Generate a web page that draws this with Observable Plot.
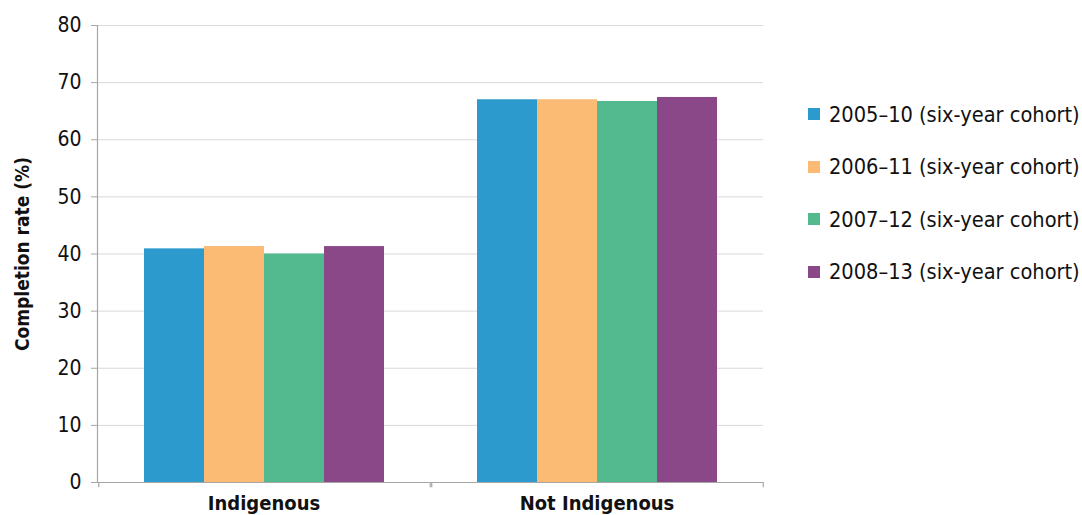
<!DOCTYPE html>
<html>
<head>
<meta charset="utf-8">
<script src="https://cdn.jsdelivr.net/npm/d3@7"></script>
<script src="https://cdn.jsdelivr.net/npm/@observablehq/plot@0.6"></script>
<style>
  html, body { margin: 0; padding: 0; background: #fff; }
  body { width: 1082px; height: 515px; position: relative; overflow: hidden;
         font-family: "Liberation Sans Narrow", "DejaVu Sans Condensed", "Roboto", sans-serif; color: #111; }
  #chart { position: absolute; left: 0; top: 0; }
  #legend { position: absolute; left: 808px; top: 88px; }
  .row { height: 52.5px; display: flex; align-items: center; font-size: 21.6px; white-space: nowrap; }
  .sw { width: 12px; height: 12px; margin-right: 9px; flex: none; }
  #ytitle { position: absolute; left: 22px; top: 254px; transform: translate(-50%, -50%) rotate(-90deg);
            font-weight: bold; font-size: 19px; white-space: nowrap; }
</style>
</head>
<body>
<div id="chart"></div>
<div id="ytitle">Completion rate (%)</div>
<div id="legend"></div>
<script>
const groups = ["Indigenous", "Not Indigenous"];
const series = ["2005–10 (six-year cohort)", "2006–11 (six-year cohort)", "2007–12 (six-year cohort)", "2008–13 (six-year cohort)"];
const indigenousValues = [40.9, 41.3, 40.0, 41.3];
const notIndigenousValues = [67.0, 67.0, 66.7, 67.4];
const colors = ["#2c9acc", "#fbbb74", "#52ba8e", "#8a4889"];
const yTicks = [0, 10, 20, 30, 40, 50, 60, 70, 80];

const valuesByGroup = [indigenousValues, notIndigenousValues];
const data = groups.flatMap((g, gi) => series.map((s, si) => ({group: g, series: s, value: valuesByGroup[gi][si]})));

const font = `"Liberation Sans Narrow", "DejaVu Sans Condensed", sans-serif`;
const axisGray = "#a6a6a6";
const edgeOffset = 75.75;

const chart = Plot.plot({
  width: 800,
  height: 515,
  marginLeft: 97,
  marginRight: 37,
  marginTop: 25,
  marginBottom: 33,
  style: {fontFamily: font, color: "#111", background: "white"},
  fx: {domain: groups, padding: 0, label: null},
  x: {domain: series, paddingInner: 0, paddingOuter: 0.75, axis: null},
  y: {domain: [0, 80], label: null},
  color: {domain: series, range: colors},
  marks: [
    Plot.gridY(yTicks, {stroke: "#d9d9d9", strokeOpacity: 1}),
    Plot.barY(data, {fx: "group", x: "series", y: "value", fill: "series", inset: 0}),
    Plot.ruleY([0], {stroke: axisGray, strokeWidth: 1.2}),
    Plot.frame({anchor: "left", facetAnchor: "left", stroke: axisGray, strokeWidth: 1.2}),
    Plot.ruleX([series[0]], {x: d => d, y1: 0, y2: -0.9, dx: -edgeOffset, stroke: axisGray, strokeWidth: 1.2}),
    Plot.ruleX([series[3]], {x: d => d, y1: 0, y2: -0.9, dx: edgeOffset, stroke: axisGray, strokeWidth: 1.2}),
    Plot.axisY(yTicks, {tickSize: 6, tickPadding: 10, fontSize: 21, stroke: axisGray, label: null}),
    Plot.axisFx({anchor: "bottom", tickSize: 0, tickPadding: 13, fontSize: 20, fontWeight: "bold", label: null})
  ]
});
document.getElementById("chart").append(chart);

const legend = d3.select("#legend");
const rows = legend.selectAll(".row").data(series).join("div").attr("class", "row");
rows.append("span").attr("class", "sw").style("background", (d, i) => colors[i]);
rows.append("span").text(d => d);
</script>
</body>
</html>
